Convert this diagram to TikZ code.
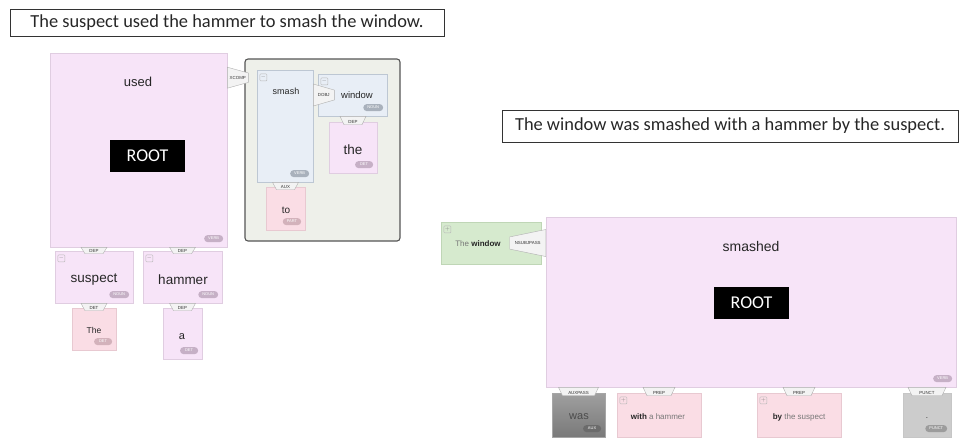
\documentclass[tikz,border=0pt]{standalone}
\usepackage{fontspec}
\setmainfont{Liberation Sans}
\newfontfamily\calib{Carlito}
\usepackage{tikz}
\usetikzlibrary{calc,positioning}

\definecolor{lilac}{HTML}{F7E4F8}
\definecolor{lilacline}{HTML}{E0CDE1}
\definecolor{rose}{HTML}{FADDE5}
\definecolor{roseline}{HTML}{E8C9D1}
\definecolor{steel}{HTML}{E8EEF6}
\definecolor{steelline}{HTML}{BDC7D3}
\definecolor{sage}{HTML}{D6EACE}
\definecolor{sageline}{HTML}{BFD6B6}
\definecolor{framefill}{HTML}{EEF0EA}
\definecolor{frameline}{HTML}{555555}
\definecolor{pill}{HTML}{C6B0C6}
\definecolor{steelpill}{HTML}{A9B1BC}
\definecolor{rosepill}{HTML}{D3B2BB}
\definecolor{darkpill}{HTML}{6B6B6B}
\definecolor{greypill}{HTML}{9C9C9C}
\definecolor{tabfill}{HTML}{F3F3F3}
\definecolor{tabline}{HTML}{B0B0B0}
\definecolor{wordgray}{HTML}{262626}
\definecolor{lightword}{HTML}{777777}

\newcommand{\fsz}[1]{\fontsize{#1}{#1}\selectfont}

\tikzset{
    box/.style = {rectangle, inner sep=0pt, line width=0.6pt},
    lilacbox/.style = {box, draw=lilacline, fill=lilac},
    rosebox/.style = {box, draw=roseline, fill=rose},
    steelbox/.style = {box, draw=steelline, fill=steel},
    sagebox/.style = {box, draw=sageline, fill=sage},
    graybox/.style = {box, draw=gray!70, top color=gray!75, bottom color=gray!95!black},
    dotbox/.style = {box, draw=gray!45, fill=gray!40},
    clausebox/.style = {rectangle, rounded corners=3pt, draw=frameline, fill=framefill, line width=1.1pt, inner sep=0pt},
    word/.style = {inner sep=0pt, text=wordgray, font=\fsz{13}},
    root/.style = {fill=black, text=white, font=\calib\fsz{18}, minimum width=75, minimum height=32, inner sep=0pt},
    postag/.style = {anchor=south east, rounded corners=3.4pt, fill=#1, text=white, font=\fsz{4},
        inner xsep=4pt, inner ysep=0pt, minimum height=7, minimum width=18},
    postag/.default = pill,
    fold/.style = {anchor=north west, draw=gray!55, line width=0.4pt, minimum size=7, inner sep=0pt,
        rounded corners=0.8pt, font=\fsz{5}, text=gray},
    deptab/.style = {fill=tabfill, draw=tabline, line width=0.4pt},
    tablabel/.style = {inner sep=0.5pt, font=\fsz{4.4}, text=black!80},
    sentence/.style = {draw=black!80, line width=0.9pt, font=\calib\fsz{18.4}, text=black!85, inner sep=0pt},
}

% tab under a head word: parent, child, half width, label
\newcommand{\downtab}[4]{%
    \path[deptab] ($(#2.north |- #1.south)+(-#3-4,0)$) -- ($(#2.north |- #1.south)+(#3+4,0)$)
        -- ($(#2.north)+(#3,3)$) -- ($(#2.north)+(-#3,3)$) -- cycle;
    \node[tablabel] (#2tab) at ($(#2.north)+(0,0.5)$) {#4};
}
% tab beside a head word: point on parent, length, half height, label, name
\newcommand{\sidetab}[5]{%
    \path[deptab] ($#1+(0,-#3)$) -- ($#1+(#2,-#3*0.45)$) -- ($#1+(#2,#3*0.45)$) -- ($#1+(0,#3)$) -- cycle;
    \node[tablabel] (#5) at ($#1+(#2/2,0)$) {#4};
}

\begin{document}
\begin{tikzpicture}[x=1pt, y=-1pt]
\useasboundingbox (0,0) rectangle (961,440);

    % sentences
    \node (active) at (227,22.5) [sentence, minimum width=434, minimum height=27] {The suspect used the hammer to smash the window.};
    \node (passive) at (730,126) [sentence, minimum width=456, minimum height=32] {The window was smashed with a hammer by the suspect.};

    % active tree
    \node (used) at (138.5,150) [lilacbox, minimum width=177, minimum height=194] {};
    \node (usedw) at (138,82) [word] {used};
    \node (usedroot) at (147.5,156) [root] {ROOT};
    \node (usedtag) at ($(used.south east)+(-4,-5)$) [postag] {VERB};

    \node (suspect) at (94,277) [lilacbox, minimum width=78, minimum height=52] {};
    \node (suspectw) at (94,280) [word, font=\fsz{13.5}] {suspect};
    \node (suspecttag) at ($(suspect.south east)+(-4,-5)$) [postag] {NOUN};
    \node (suspectfold) at ($(suspect.north west)+(3,4)$) [fold] {$-$};

    \node (hammer) at (182.5,277) [lilacbox, minimum width=79, minimum height=52] {};
    \node (hammerw) at (183,280) [word, font=\fsz{13.5}] {hammer};
    \node (hammertag) at ($(hammer.south east)+(-4,-5)$) [postag] {NOUN};
    \node (hammerfold) at ($(hammer.north west)+(3,4)$) [fold] {$-$};

    \node (the1) at (94,329) [rosebox, minimum width=44, minimum height=42] {};
    \node (the1w) at (94,330) [word, font=\fsz{8.5}] {The};
    \node (the1tag) at ($(the1.south east)+(-4,-5)$) [postag=rosepill] {DET};

    \node (a) at (182.5,333.5) [lilacbox, minimum width=39, minimum height=51] {};
    \node (aw) at (182,337) [word, font=\fsz{11}] {a};
    \node (atag) at ($(a.south east)+(-4,-5)$) [postag] {DET};

    % clause under xcomp
    \node (clause) at (322.5,150) [clausebox, minimum width=155, minimum height=182] {};
    \node (smash) at (285,126) [steelbox, minimum width=56, minimum height=112] {};
    \node (smashw) at (286,91) [word, font=\fsz{9}] {smash};
    \node (smashtag) at ($(smash.south east)+(-4,-5)$) [postag=steelpill] {VERB};
    \node (smashfold) at ($(smash.north west)+(3,4)$) [fold] {$-$};

    \node (window) at (352.5,95) [steelbox, minimum width=69, minimum height=42] {};
    \node (windoww) at (357,95) [word, font=\fsz{9.5}] {window};
    \node (windowtag) at ($(window.south east)+(-4,-5)$) [postag=steelpill] {NOUN};
    \node (windowfold) at ($(window.north west)+(3,4)$) [fold] {$-$};

    \node (the2) at (353,147.5) [lilacbox, minimum width=48, minimum height=51] {};
    \node (the2w) at (353,150) [word, font=\fsz{13.5}] {the};
    \node (the2tag) at ($(the2.south east)+(-4,-5)$) [postag] {DET};

    \node (to) at (285.5,208.5) [rosebox, minimum width=39, minimum height=43] {};
    \node (tow) at (286,210) [word, font=\fsz{10}] {to};
    \node (totag) at ($(to.south east)+(-4,-5)$) [postag=rosepill] {PART};

    % passive tree
    \node (nsubj) at (491,243) [sagebox, minimum width=100, minimum height=42] {};
    \node (nsubjw) at (478,244) [word, font=\fsz{8}] {{\color{lightword}The} \textbf{window}};
    \node (nsubjfold) at ($(nsubj.north west)+(3,4)$) [fold] {$+$};

    \node (smashed) at (751,302) [lilacbox, minimum width=410, minimum height=170] {};
    \node (smashedw) at (751,246) [word, font=\fsz{14}] {smashed};
    \node (smashedroot) at (751.5,303) [root] {ROOT};
    \node (smashedtag) at ($(smashed.south east)+(-4,-5)$) [postag] {VERB};

    \node (was) at (578.5,415) [graybox, minimum width=53, minimum height=44] {};
    \node (wasw) at (579,417) [word, font=\fsz{11}, text=black!70] {was};
    \node (wastag) at ($(was.south east)+(-4,-5)$) [postag=darkpill] {AUX};

    \node (with) at (659,415) [rosebox, minimum width=84, minimum height=44] {};
    \node (withw) at (658,417) [word, font=\fsz{8}] {\textbf{with} {\color{lightword}a hammer}};
    \node (withfold) at ($(with.north west)+(3,4)$) [fold] {$+$};

    \node (by) at (799,415) [rosebox, minimum width=84, minimum height=44] {};
    \node (byw) at (799,417) [word, font=\fsz{8}] {\textbf{by} {\color{lightword}the suspect}};
    \node (byfold) at ($(by.north west)+(3,4)$) [fold] {$+$};

    \node (dot) at (927,415) [dotbox, minimum width=48, minimum height=44] {};
    \node (dotw) at (927,418) [word, font=\fsz{8}] {.};
    \node (dottag) at ($(dot.south east)+(-4,-5)$) [postag=greypill] {PUNCT};

    % dependency tabs
    \downtab{used}{suspect}{9}{DEP}
    \downtab{used}{hammer}{9}{DEP}
    \downtab{suspect}{the1}{9}{DET}
    \downtab{hammer}{a}{9}{DEP}
    \downtab{smash}{to}{9}{AUX}
    \downtab{window}{the2}{9}{DEP}
    \downtab{smashed}{was}{16}{AUXPASS}
    \downtab{smashed}{with}{12}{PREP}
    \downtab{smashed}{by}{12}{PREP}
    \downtab{smashed}{dot}{15}{PUNCT}

    \coordinate (xcompat) at ($(used.east |- smash.north)+(0,8)$);
    \sidetab{(xcompat)}{21}{10.5}{XCOMP}{xcomptab}
    \sidetab{(smash.east |- window.west)}{21}{11}{DOBJ}{dobjtab}
    \sidetab{(smashed.west |- nsubj.east)}{-36}{13.5}{NSUBJPASS}{nsubjtab}

\end{tikzpicture}
\end{document}
